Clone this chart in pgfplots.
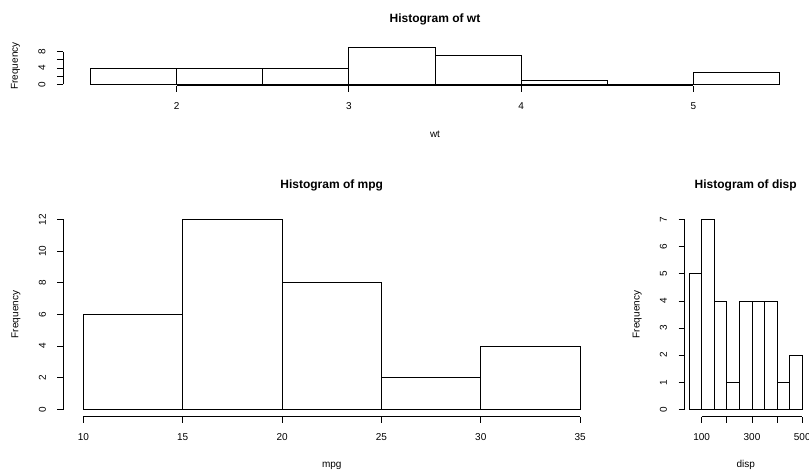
\documentclass[border=0pt]{standalone}
\usepackage{fontspec}
\setmainfont{Liberation Sans}
\usepackage{pgfplots}
\pgfplotsset{compat=1.18}
\pgfplotsset{
  rhist/.style={
    scale only axis,
    clip=false,
    axis lines*=left,
    axis line style={draw=none,-},
    tick align=outside,
    major tick length=6pt,
    minor tick num=0,
    tick style={black, line width=0.8pt},
    tick label style={font=\fontsize{10}{12}\selectfont, inner sep=3.33pt},
    xticklabel style={anchor=north},
    yticklabel style={rotate=90, anchor=south},
    xticklabel shift=7.1pt,
    yticklabel shift=8.1pt,
    scaled ticks=false,
    every axis x label/.style={at={(axis description cs:0.5,0)}, anchor=center, yshift=-48.5pt, font=\fontsize{10}{12}\selectfont},
    every axis y label/.style={at={(axis description cs:0,0.5)}, xshift=-47.5pt, rotate=90, anchor=center, font=\fontsize{10}{12}\selectfont},
    every axis title/.style={at={(axis description cs:0.5,1)}, anchor=base, yshift=23.5pt, font=\fontsize{12}{14}\selectfont\bfseries},
    ylabel={Frequency},
  },
  rbars/.style={ybar interval, draw=black, fill=white, line width=0.8pt},
}
\begin{document}
\begin{tikzpicture}
\useasboundingbox (0pt,0pt) rectangle (809pt,473pt);

% ---- Histogram of wt ----
\begin{axis}[rhist,
  at={(63pt,387.2pt)}, anchor=south west,
  width=744pt, height=39.6pt,
  xmin=1.34, xmax=5.66, ymin=-0.36, ymax=9.36,
  xtick={2,3,4,5}, xticklabels={2,3,4,5},
  ytick={0,2,4,6,8}, yticklabels={0,,4,,8},
  title={Histogram of wt}, xlabel={wt}]
  \addplot[rbars] coordinates {(1.5,4) (2,4) (2.5,4) (3,9) (3.5,7) (4,1) (4.5,0) (5,3) (5.5,3)};
  \draw[line width=0.8pt] (axis cs:2,-0.36) -- (axis cs:5,-0.36);
  \draw[line width=0.8pt] (axis cs:1.34,0) -- (axis cs:1.34,8);
\end{axis}

% ---- Histogram of mpg ----
\begin{axis}[rhist,
  at={(63.5pt,56.1pt)}, anchor=south west,
  width=536.5pt, height=204.8pt,
  xmin=9, xmax=36, ymin=-0.48, ymax=12.48,
  xtick={10,15,20,25,30,35}, xticklabels={10,15,20,25,30,35},
  ytick={0,2,4,6,8,10,12}, yticklabels={0,2,4,6,8,10,12},
  title={Histogram of mpg}, xlabel={mpg}]
  \addplot[rbars] coordinates {(10,6) (15,12) (20,8) (25,2) (30,4) (35,4)};
  \draw[line width=0.8pt] (axis cs:10,-0.48) -- (axis cs:35,-0.48);
  \draw[line width=0.8pt] (axis cs:9,0) -- (axis cs:9,12);
\end{axis}

% ---- Histogram of disp ----
\begin{axis}[rhist,
  at={(684.6pt,56.1pt)}, anchor=south west,
  width=122.2pt, height=204.8pt,
  xmin=32, xmax=518, ymin=-0.28, ymax=7.28,
  xtick={100,200,300,400,500}, xticklabels={100,,300,,500},
  ytick={0,1,2,3,4,5,6,7}, yticklabels={0,1,2,3,4,5,6,7},
  title={Histogram of disp}, xlabel={disp}]
  \addplot[rbars] coordinates {(50,5) (100,7) (150,4) (200,1) (250,4) (300,4) (350,4) (400,1) (450,2) (500,2)};
  \draw[line width=0.8pt] (axis cs:100,-0.28) -- (axis cs:500,-0.28);
  \draw[line width=0.8pt] (axis cs:32,0) -- (axis cs:32,7);
\end{axis}
\end{tikzpicture}
\end{document}
